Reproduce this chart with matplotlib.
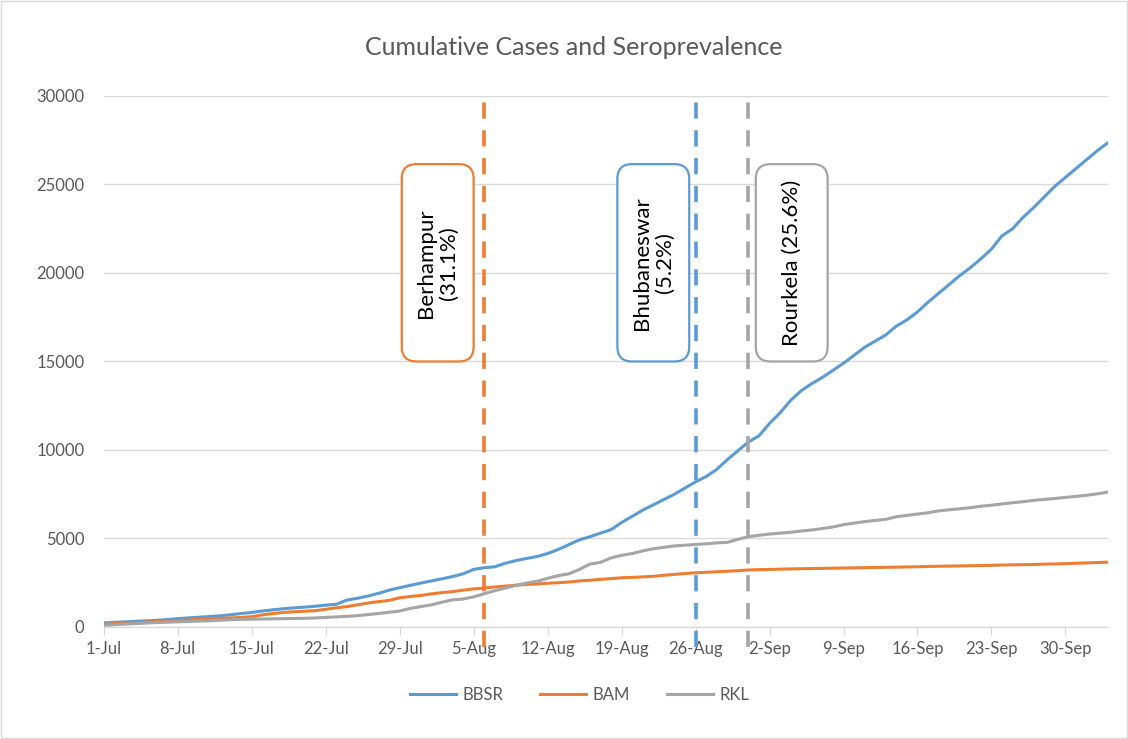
import numpy as np
import pandas as pd
import matplotlib
matplotlib.use("Agg")
import matplotlib.pyplot as plt
import matplotlib.dates as mdates
from matplotlib.patches import FancyBboxPatch, Rectangle

plt.rcParams['font.family'] = ['Lato', 'DejaVu Sans']

# cumulative cases per day, 1-Jul onwards
bbsr = [230, 260, 290, 320, 345, 375, 420,
        470, 510, 550, 590, 630, 690, 760,
        820, 900, 970, 1030, 1080, 1120, 1170,
        1230, 1280, 1520, 1620, 1750, 1900, 2080,
        2220, 2350, 2480, 2600, 2720, 2850, 3000,
        3250, 3350, 3400, 3600, 3750, 3870, 3980,
        4150, 4380, 4650, 4920, 5100, 5300, 5500,
        5900, 6250, 6600, 6900, 7200, 7500, 7850,
        8200, 8500, 8900, 9450, 9950, 10450, 10800,
        11500, 12100, 12800, 13350, 13750, 14100, 14500,
        14900, 15350, 15800, 16150, 16500, 17000, 17350,
        17800, 18350, 18850, 19350, 19850, 20300, 20800,
        21350, 22100, 22500, 23150, 23700, 24300, 24900,
        25400, 25900, 26400, 26900, 27350]

bam = [150, 180, 210, 240, 270, 300, 330,
       360, 390, 420, 450, 480, 510, 540,
       580, 680, 760, 820, 860, 890, 920,
       1000, 1080, 1150, 1250, 1350, 1430, 1500,
       1650, 1720, 1780, 1870, 1940, 2000, 2080,
       2150, 2200, 2260, 2310, 2360, 2400, 2430,
       2470, 2500, 2540, 2600, 2640, 2690, 2730,
       2780, 2800, 2830, 2860, 2920, 2970, 3020,
       3060, 3090, 3120, 3150, 3180, 3220, 3240,
       3250, 3265, 3280, 3290, 3300, 3310, 3320,
       3330, 3340, 3350, 3360, 3370, 3380, 3390,
       3400, 3420, 3430, 3440, 3450, 3460, 3470,
       3480, 3500, 3510, 3520, 3530, 3550, 3560,
       3580, 3600, 3620, 3640, 3660]

rkl = [100, 130, 160, 190, 220, 250, 270,
       290, 310, 330, 350, 380, 410, 430,
       440, 450, 460, 470, 480, 490, 510,
       540, 570, 600, 640, 700, 760, 830,
       900, 1050, 1150, 1250, 1400, 1530, 1580,
       1700, 1880, 2050, 2200, 2350, 2480, 2580,
       2750, 2900, 3000, 3250, 3550, 3650, 3900,
       4050, 4150, 4300, 4420, 4500, 4580, 4620,
       4660, 4700, 4750, 4780, 4950, 5100, 5180,
       5250, 5300, 5350, 5420, 5480, 5560, 5650,
       5780, 5870, 5950, 6020, 6080, 6230, 6300,
       6380, 6450, 6560, 6620, 6680, 6740, 6820,
       6880, 6950, 7020, 7080, 7150, 7210, 7260,
       7320, 7380, 7440, 7520, 7620]

dates = pd.date_range('2020-07-01', periods=len(bbsr), freq='D')

# serosurvey markers
survey_dates = ['2020-08-06', '2020-08-26', '2020-08-31']
survey_labels = ['Berhampur\n(31.1%)', 'Bhubaneswar\n(5.2%)', 'Rourkela (25.6%)']

c_blue = '#5B9BD5'
c_orange = '#ED7D31'
c_gray = '#A5A5A5'
survey_colors = [c_orange, c_blue, c_gray]

fig = plt.figure(figsize=(11.28, 7.39), dpi=100)
ax = fig.add_axes([0.092, 0.1516, 0.890, 0.7185])

ax.plot(dates, bbsr, color=c_blue, lw=2.2, label='BBSR', zorder=3)
ax.plot(dates, bam, color=c_orange, lw=2.2, label='BAM', zorder=3)
ax.plot(dates, rkl, color=c_gray, lw=2.2, label='RKL', zorder=3)

ax.set_xlim(dates[0], dates[-1])
ax.set_ylim(0, 30000)
ax.set_yticks(np.arange(0, 30001, 5000))
ax.set_xticks(dates[::7])
ax.xaxis.set_major_formatter(mdates.DateFormatter('%-d-%b'))

ax.grid(axis='y', color='#D9D9D9', lw=1)
ax.set_axisbelow(True)
for s in ['top', 'right', 'left']:
    ax.spines[s].set_visible(False)
ax.spines['bottom'].set_color('#D9D9D9')
ax.spines['bottom'].set_linewidth(1)
ax.tick_params(axis='y', length=0, labelsize=12, labelcolor='#595959', pad=14)
ax.tick_params(axis='x', length=6, color='#D9D9D9', labelsize=12,
               labelcolor='#595959', pad=4)

fig.text(0.509, 0.936, 'Cumulative Cases and Seroprevalence', fontsize=18,
         color='#595959', ha='center', va='center')

# box geometry in data units
xspan = (dates[-1] - dates[0]).days
px_x = xspan / (0.890 * 1128)
px_y = 30000 / (0.7185 * 739)
box_w = 6.8
box_top, box_bot = 26150, 15000
box_gap = [-7.8, -7.4, 0.7]

for d, lab, col, g in zip(survey_dates, survey_labels, survey_colors, box_gap):
    xd = pd.Timestamp(d)
    xn = mdates.date2num(xd)
    ax.plot([xd, xd], [-1130, 29750], color=col, lw=2.6, ls=(0, (4.5, 3.2)),
            clip_on=False, zorder=4)
    x0 = xn + g
    patch = FancyBboxPatch((x0, box_bot), box_w, box_top - box_bot,
                           boxstyle='round,pad=0,rounding_size=1.4',
                           mutation_aspect=px_y / px_x,
                           fc='white', ec=col, lw=1.6, zorder=5)
    ax.add_patch(patch)
    ax.text(x0 + box_w / 2, (box_top + box_bot) / 2, lab, rotation=90,
            ha='center', va='center', fontsize=16, color='black',
            linespacing=1.2, zorder=6)

ax.legend(loc='upper center', bbox_to_anchor=(0.474, -0.085), ncol=3,
          frameon=False, fontsize=12, handlelength=2.75, columnspacing=2.2,
          labelcolor='#595959', handletextpad=0.4)

fig.patches.append(Rectangle((0.001, 0.001), 0.998, 0.997, transform=fig.transFigure,
                             fill=False, ec='#D9D9D9', lw=1))

fig.savefig('out.png', dpi=100)
